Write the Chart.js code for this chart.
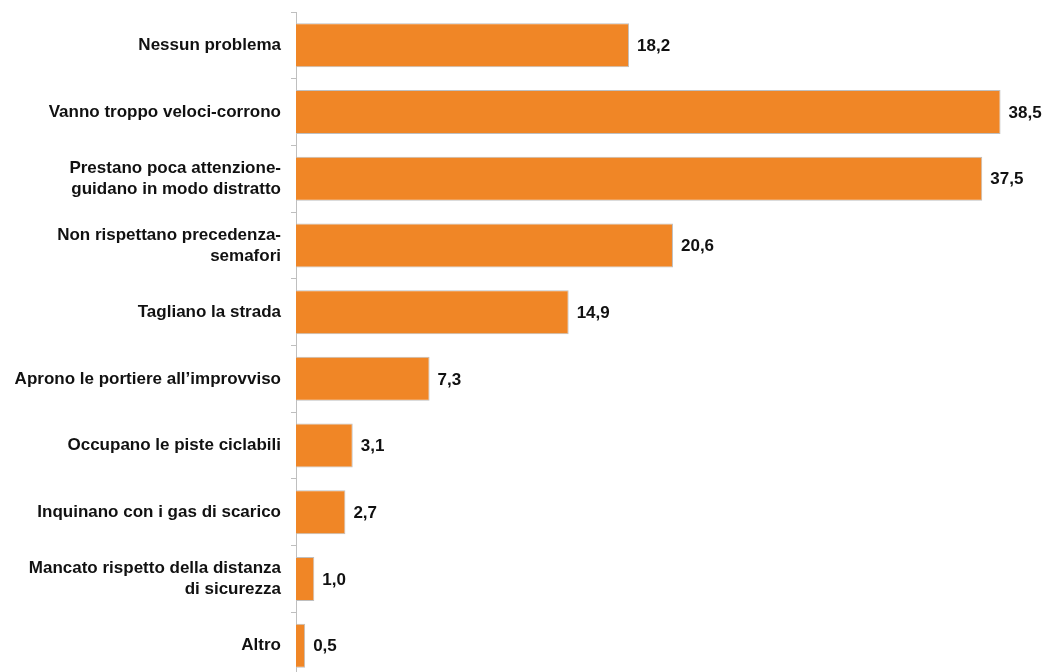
<!DOCTYPE html>
<html>
<head>
<meta charset="utf-8">
<script src="https://cdn.jsdelivr.net/npm/chart.js@4.4.0/dist/chart.umd.min.js"></script>
<style>
  html, body { margin: 0; padding: 0; background: #fff; overflow: hidden; }
  #wrap { width: 1048px; height: 679px; position: relative; }
</style>
</head>
<body>
<div id="wrap"><canvas id="grafico"></canvas></div>
<script>
// categorie (etichette su più righe dove serve)
const categorie = [
    'Nessun problema',
    'Vanno troppo veloci-corrono',
    ['Prestano poca attenzione-', 'guidano in modo distratto'],
    ['Non rispettano precedenza-', 'semafori'],
    'Tagliano la strada',
    'Aprono le portiere all\u2019improvviso',
    'Occupano le piste ciclabili',
    'Inquinano con i gas di scarico',
    ['Mancato rispetto della distanza', 'di sicurezza'],
    'Altro'
];
const valori = [18.2, 38.5, 37.5, 20.6, 14.9, 7.3, 3.1, 2.7, 1.0, 0.5];

const arancio = 'rgb(240, 134, 38)';
const grigio = '#bfbfbf';
const fontTesto = { family: '"Liberation Sans", Arial, sans-serif', size: 17, weight: 'bold' };

// scrive il valore a destra di ogni barra
const etichetteValori = {
    id: 'etichetteValori',
    afterDatasetsDraw(chart) {
        const ctx = chart.ctx;
        const meta = chart.getDatasetMeta(0);
        ctx.save();
        ctx.font = 'bold 17px "Liberation Sans", Arial, sans-serif';
        ctx.fillStyle = '#111';
        ctx.textAlign = 'left';
        ctx.textBaseline = 'middle';
        meta.data.forEach((barra, i) => {
            const testo = valori[i].toFixed(1).replace('.', ',');
            ctx.fillText(testo, barra.x + 8, barra.y + 1);
        });
        ctx.restore();
    }
};

new Chart(document.getElementById('grafico'), {
    type: 'bar',
    data: {
        labels: categorie,
        datasets: [{
            data: valori,
            backgroundColor: arancio,
            borderColor: grigio,
            borderWidth: 1,
            barPercentage: 0.66,
            categoryPercentage: 1
        }]
    },
    options: {
        indexAxis: 'y',
        responsive: true,
        maintainAspectRatio: false,
        animation: false,
        layout: { padding: { top: 12, right: 20, bottom: 0, left: 0 } },
        plugins: {
            legend: { display: false },
            tooltip: { enabled: false }
        },
        scales: {
            x: { display: false, min: 0, max: 40 },
            y: {
                grid: { offset: true, drawOnChartArea: false, tickLength: 5, color: grigio },
                border: { color: grigio },
                ticks: { color: '#111', font: { ...fontTesto, lineHeight: 1.25 }, padding: 10, autoSkip: false },
                afterFit(scala) {
                    scala.width = 296;
                    scala.paddingTop = 0;
                    scala.paddingBottom = 0;
                }
            }
        }
    },
    plugins: [etichetteValori]
});
</script>
</body>
</html>
